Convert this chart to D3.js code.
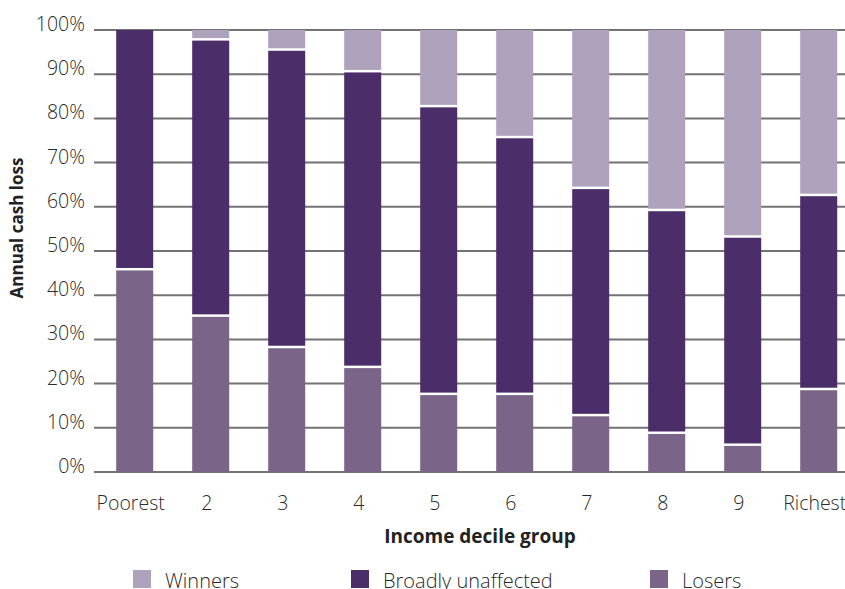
<!DOCTYPE html>
<html>
<head>
<meta charset="utf-8">
<script src="https://cdn.jsdelivr.net/npm/d3@7"></script>
<style>
  html, body { margin: 0; padding: 0; background: #fff; }
  svg { display: block; }
  text { font-family: "Open Sans", Lato, sans-serif; }
</style>
</head>
<body>
<svg id="chart" width="845" height="589"></svg>
<script>
const categories = ["Poorest", "2", "3", "4", "5", "6", "7", "8", "9", "Richest"];
const losers     = [45.6, 35.1, 28.0, 23.5, 17.4, 17.4, 12.6, 8.6, 5.9, 18.5];
const unaffected = [54.4, 62.5, 67.3, 66.9, 65.1, 58.1, 51.4, 50.4, 47.1, 43.9];
const winners    = [0.0, 2.4, 4.7, 9.6, 17.5, 24.5, 36.0, 41.0, 47.0, 37.6];
const yTicks = [0, 10, 20, 30, 40, 50, 60, 70, 80, 90, 100];
const seriesNames = ["Losers", "Broadly unaffected", "Winners"];
const legendOrder = ["Winners", "Broadly unaffected", "Losers"];
const colors = { "Losers": "#7a6589", "Broadly unaffected": "#4b2d69", "Winners": "#afa2bd" };

const rows = categories.map((c, i) => ({
  cat: c, "Losers": losers[i], "Broadly unaffected": unaffected[i], "Winners": winners[i]
}));
const stacked = d3.stack().keys(seriesNames)(rows);

const svg = d3.select("#chart");
const y = d3.scaleLinear().domain([0, 100]).range([472, 30]);
const x = d3.scaleBand().domain(categories).range([96.7, 856.7]).paddingInner(0.513).paddingOuter(0.2565);

// gridlines
svg.append("g").selectAll("line").data(yTicks).join("line")
  .attr("x1", 94).attr("x2", 845)
  .attr("y1", d => y(d)).attr("y2", d => y(d))
  .attr("stroke", "#737373").attr("stroke-width", 2);

// y tick labels
svg.append("g").selectAll("text").data(yTicks).join("text")
  .attr("x", 85).attr("y", d => y(d)).attr("dy", "0.05em")
  .attr("text-anchor", "end").attr("font-size", 19.5).attr("font-weight", 300).attr("fill", "#2a2a2a")
  .text(d => d + "%");

// bars
svg.append("g").selectAll("g").data(stacked).join("g")
  .attr("fill", d => colors[d.key])
  .selectAll("rect").data(d => d.filter(s => s[1] - s[0] > 0)).join("rect")
  .attr("x", d => x(d.data.cat))
  .attr("width", x.bandwidth())
  .attr("y", d => y(d[1]))
  .attr("height", d => Math.max(0, y(d[0]) - y(d[1]) - (d[0] > 0 ? 2.5 : 0)));

// x tick labels
svg.append("g").selectAll("text").data(categories).join("text")
  .attr("x", d => x(d) + x.bandwidth() / 2 - 4).attr("y", 510)
  .attr("text-anchor", "middle").attr("font-size", 19.5).attr("font-weight", 300).attr("fill", "#2a2a2a")
  .text(d => d);

// axis titles
svg.append("text").attr("x", 480).attr("y", 543).attr("text-anchor", "middle")
  .attr("font-size", 19).attr("font-weight", "bold").attr("fill", "#222")
  .text("Income decile group");
svg.append("text").attr("transform", "translate(23,228) rotate(-90)").attr("text-anchor", "middle")
  .attr("font-size", 17).attr("font-weight", "bold").attr("fill", "#222")
  .text("Annual cash loss");

// legend
const legendX = [133, 351, 650];
const lg = svg.append("g").selectAll("g").data(legendOrder).join("g")
  .attr("transform", (d, i) => `translate(${legendX[i]},570)`);
lg.append("rect").attr("width", 18).attr("height", 18).attr("fill", d => colors[d]);
lg.append("text").attr("x", 32).attr("y", 18).attr("font-size", 20).attr("font-weight", 300).attr("fill", "#2a2a2a").text(d => d);
</script>
</body>
</html>
